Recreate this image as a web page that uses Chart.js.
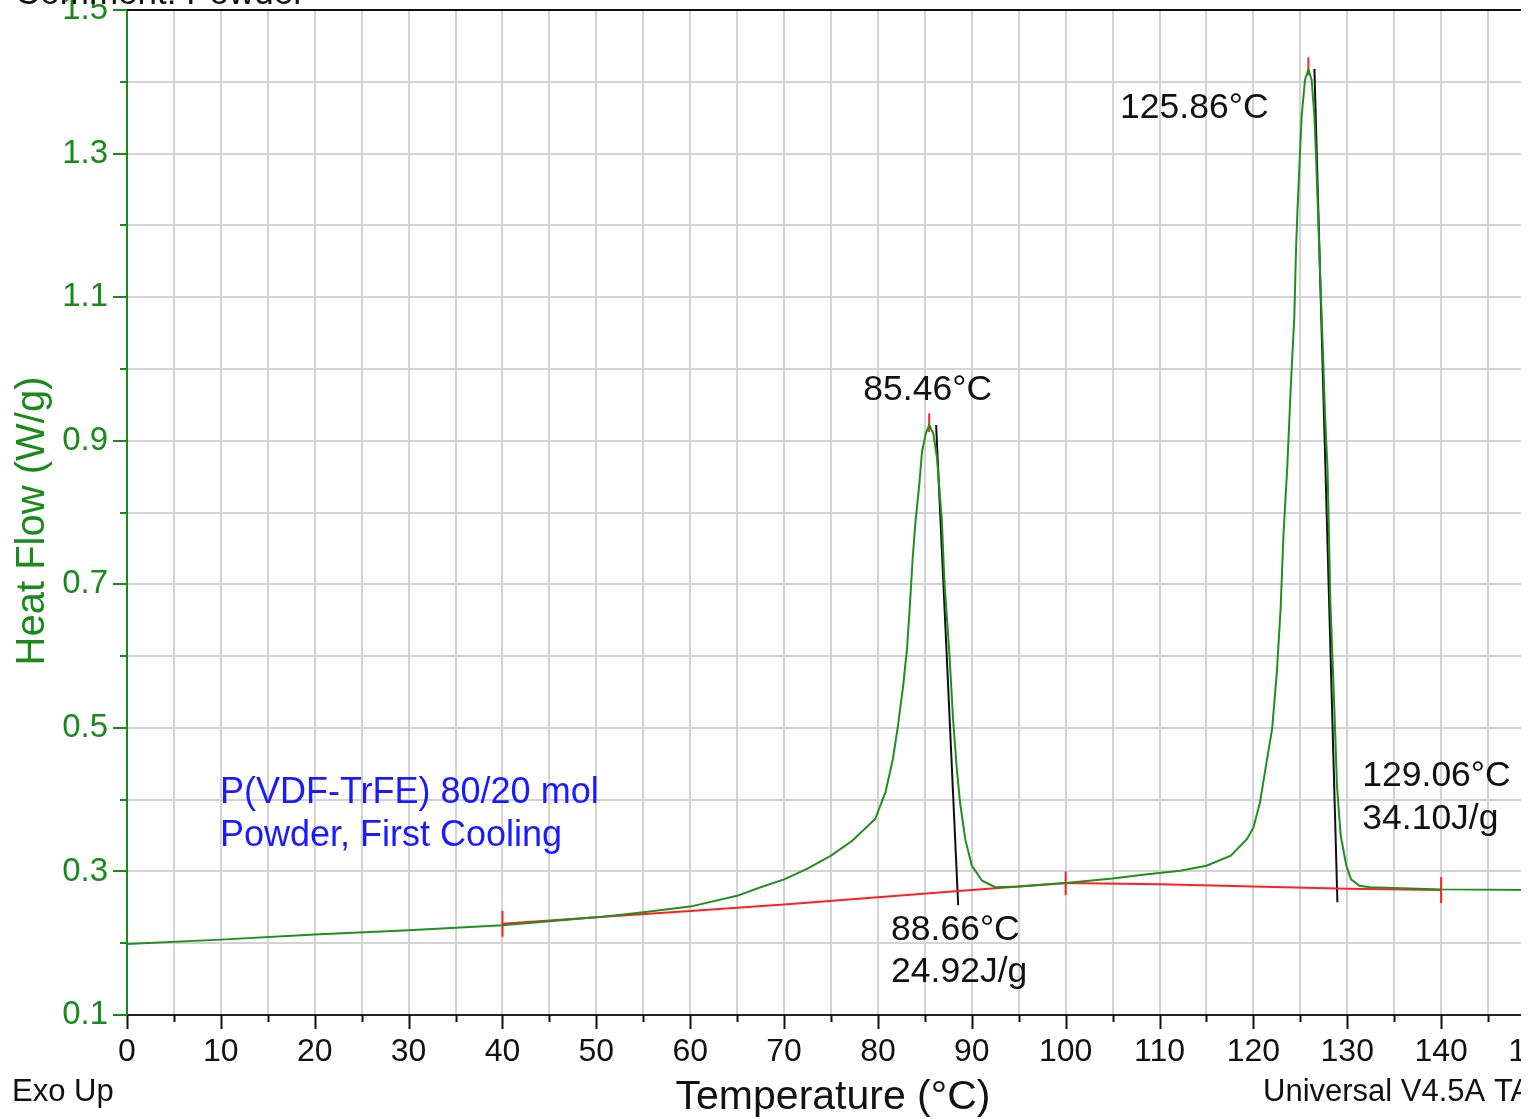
<!DOCTYPE html>
<html>
<head>
<meta charset="utf-8">
<script src="https://cdn.jsdelivr.net/npm/chart.js@4.4.1/dist/chart.umd.min.js"></script>
<style>
  html, body { margin: 0; padding: 0; background: #fff; overflow: hidden; }
  #marco { width: 1521px; height: 1119px; overflow: hidden; position: relative; }
  canvas { display: block; }
</style>
</head>
<body>
<div id="marco"><canvas id="grafico" width="1545" height="1119"></canvas></div>
<script>
// curva DSC (primer enfriamiento)
const temperatura = [0, 10, 20, 30, 40, 50, 55, 60, 65, 67.5, 70, 72.5, 75, 77.3, 79.7, 80.8, 81.6, 82.1, 82.7, 83.1, 83.4, 83.7, 84.0, 84.4, 84.7, 85.1, 85.46, 85.9, 86.3, 86.8, 87.1, 87.6, 88.0, 88.4, 88.75, 89.3, 90.0, 91.1, 92.5, 95, 100, 105, 108, 112.2, 115, 117.6, 119.3, 120, 120.7, 121.4, 122, 122.5, 122.9, 123.2, 123.6, 124.0, 124.36, 124.54, 124.7, 124.9, 125.14, 125.5, 125.86, 126.2, 126.5, 126.7, 126.93, 127.14, 127.4, 127.64, 127.9, 128.2, 128.6, 128.9, 129.3, 129.9, 130.4, 131.3, 132.4, 140, 150];
const flujoCalor = [0.199, 0.205, 0.212, 0.218, 0.225, 0.236, 0.243, 0.251, 0.266, 0.278, 0.289, 0.304, 0.322, 0.343, 0.373, 0.41, 0.457, 0.5, 0.56, 0.61, 0.67, 0.736, 0.787, 0.838, 0.885, 0.91, 0.922, 0.91, 0.875, 0.79, 0.70, 0.606, 0.513, 0.443, 0.396, 0.345, 0.308, 0.287, 0.278, 0.279, 0.284, 0.290, 0.295, 0.301, 0.308, 0.322, 0.345, 0.361, 0.396, 0.452, 0.499, 0.578, 0.666, 0.768, 0.861, 0.98, 1.073, 1.166, 1.222, 1.282, 1.352, 1.403, 1.417, 1.403, 1.352, 1.287, 1.203, 1.12, 1.027, 0.933, 0.86, 0.675, 0.536, 0.42, 0.35, 0.308, 0.289, 0.28, 0.278, 0.275, 0.274];

// linea base de integracion (roja)
const baseTemp = [40, 50, 60, 70, 80, 90, 100, 110, 120, 130, 140];
const baseFlujo = [0.227, 0.236, 0.245, 0.254, 0.264, 0.274, 0.284, 0.282, 0.279, 0.276, 0.274];

// marcas rojas verticales: [temperatura, desde, hasta]
const marcasRojas = [
  [40, 0.209, 0.245],
  [100, 0.267, 0.300],
  [140, 0.256, 0.292],
  [85.46, 0.912, 0.938],
  [125.86, 1.409, 1.434]
];

// tangentes de onset (negras): [t1, v1, t2, v2]
const tangentes = [
  [86.2, 0.922, 88.55, 0.253],
  [126.5, 1.418, 128.95, 0.257]
];

// textos de los picos, anclados en unidades de datos
const notas = [
  { texto: '85.46°C', t: 85.3, v: 0.971, alinear: 'center', color: '#111' },
  { texto: '125.86°C', t: 105.8, v: 1.363, alinear: 'left', color: '#111' },
  { texto: '88.66°C', t: 81.4, v: 0.218, alinear: 'left', color: '#111' },
  { texto: '24.92J/g', t: 81.4, v: 0.160, alinear: 'left', color: '#111' },
  { texto: '129.06°C', t: 131.6, v: 0.432, alinear: 'left', color: '#111' },
  { texto: '34.10J/g', t: 131.6, v: 0.373, alinear: 'left', color: '#111' },
  { texto: 'P(VDF-TrFE) 80/20 mol', t: 9.9, v: 0.409, alinear: 'left', color: '#1a1aff' },
  { texto: 'Powder, First Cooling', t: 9.9, v: 0.349, alinear: 'left', color: '#1a1aff' }
];

const VERDE = '#1a8a1a';
const FUENTE = '"Liberation Sans", Arial, sans-serif';

const puntosCurva = temperatura.map((t, i) => ({ x: t, y: flujoCalor[i] }));
const puntosBase = baseTemp.map((t, i) => ({ x: t, y: baseFlujo[i] }));

const datasets = [{
  data: puntosCurva,
  borderColor: '#1f8f1f',
  borderWidth: 2,
  pointRadius: 0,
  tension: 0
}, {
  data: puntosBase,
  borderColor: '#ff2020',
  borderWidth: 2,
  pointRadius: 0,
  tension: 0
}];

tangentes.forEach(tg => {
  datasets.push({
    data: [{ x: tg[0], y: tg[1] }, { x: tg[2], y: tg[3] }],
    borderColor: '#111',
    borderWidth: 2,
    pointRadius: 0
  });
});

marcasRojas.forEach(m => {
  datasets.push({
    data: [{ x: m[0], y: m[1] }, { x: m[0], y: m[2] }],
    borderColor: '#ff2020',
    borderWidth: 2,
    pointRadius: 0
  });
});

const extras = {
  id: 'extras',
  afterDraw(chart) {
    const ctx = chart.ctx;
    const area = chart.chartArea;
    const sx = chart.scales.x;
    const sy = chart.scales.y;

    ctx.save();

    // borde superior
    ctx.strokeStyle = '#111';
    ctx.lineWidth = 2;
    ctx.beginPath();
    ctx.moveTo(area.left, area.top);
    ctx.lineTo(area.right, area.top);
    ctx.stroke();

    // marcas del eje x
    sx.ticks.forEach(tk => {
      const px = Math.round(sx.getPixelForValue(tk.value)) + 0.5;
      const largo = tk.value % 10 === 0 ? 14 : 7;
      ctx.beginPath();
      ctx.moveTo(px, area.bottom);
      ctx.lineTo(px, area.bottom + largo);
      ctx.stroke();
    });

    // marcas del eje y
    ctx.strokeStyle = VERDE;
    sy.ticks.forEach(tk => {
      const py = Math.round(sy.getPixelForValue(tk.value));
      const largo = Math.round(tk.value * 10) % 2 === 1 ? 14 : 7;
      ctx.beginPath();
      ctx.moveTo(area.left - largo, py);
      ctx.lineTo(area.left, py);
      ctx.stroke();
    });

    // textos de picos
    ctx.textBaseline = 'middle';
    notas.forEach(n => {
      ctx.font = (n.color === '#111' ? '35.5px ' : '36px ') + FUENTE;
      ctx.fillStyle = n.color;
      ctx.textAlign = n.alinear;
      ctx.fillText(n.texto, sx.getPixelForValue(n.t), sy.getPixelForValue(n.v));
    });

    // titulos de ejes
    ctx.fillStyle = '#111';
    ctx.textAlign = 'center';
    ctx.font = '41px ' + FUENTE;
    ctx.fillText('Temperature (°C)', 833, 1098);

    ctx.save();
    ctx.translate(33, 521);
    ctx.rotate(-Math.PI / 2);
    ctx.fillStyle = VERDE;
    ctx.font = '40px ' + FUENTE;
    ctx.fillText('Heat Flow (W/g)', 0, 0);
    ctx.restore();

    ctx.fillStyle = '#111';
    ctx.font = '31px ' + FUENTE;
    ctx.textAlign = 'left';
    ctx.fillText('Exo Up', 12, 1092);
    ctx.fillText('Universal V4.5A TA Instruments', 1263, 1092);

    ctx.font = '35px ' + FUENTE;
    ctx.textBaseline = 'alphabetic';
    ctx.fillText('Comment: Powder', 15, 4);

    ctx.restore();
  }
};

new Chart(document.getElementById('grafico'), {
  type: 'line',
  data: { datasets: datasets },
  options: {
    responsive: false,
    animation: false,
    devicePixelRatio: 1,
    layout: { padding: { top: 10, right: 10, left: 0, bottom: 0 } },
    plugins: {
      legend: { display: false },
      tooltip: { enabled: false },
      title: { display: false }
    },
    scales: {
      x: {
        type: 'linear',
        min: 0,
        max: 150,
        afterFit: s => { s.height = 104; s.paddingLeft = 0; s.paddingRight = 0; },
        ticks: {
          stepSize: 5,
          autoSkip: false,
          maxRotation: 0,
          padding: 18,
          color: '#111',
          font: { family: FUENTE, size: 32 },
          callback: v => (v % 10 === 0 ? String(v) : '')
        },
        grid: { color: '#d3d3d3', lineWidth: 2, drawTicks: false },
        border: { color: '#222', width: 2 }
      },
      y: {
        type: 'linear',
        min: 0.1,
        max: 1.5,
        afterFit: s => { s.width = 127; s.paddingTop = 0; s.paddingBottom = 0; },
        ticks: {
          stepSize: 0.1,
          autoSkip: false,
          padding: 19,
          color: VERDE,
          font: { family: FUENTE, size: 33 },
          callback: v => (Math.round(v * 10) % 2 === 1 ? v.toFixed(1) : '')
        },
        grid: { color: '#d3d3d3', lineWidth: 2, drawTicks: false },
        border: { color: VERDE, width: 2 }
      }
    }
  },
  plugins: [extras]
});
</script>
</body>
</html>
